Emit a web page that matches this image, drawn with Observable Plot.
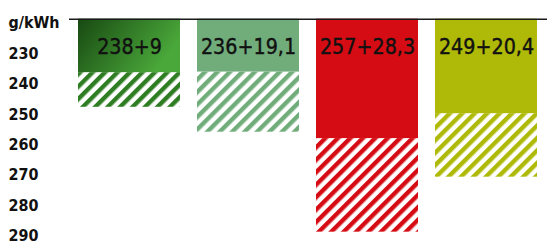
<!DOCTYPE html>
<html>
<head>
<meta charset="utf-8">
<script src="https://cdn.jsdelivr.net/npm/d3@7"></script>
<script src="https://cdn.jsdelivr.net/npm/@observablehq/plot@0.6"></script>
<style>
  html, body { margin: 0; padding: 0; background: #fff; }
  svg { display: block; }
</style>
</head>
<body>
<div id="chart"></div>
<script>
// Data
const categories = ["A", "B", "C", "D"];
const labels = ["238+9", "236+19,1", "257+28,3", "249+20,4"];
const solidEnd = [236.3, 236.1, 258.0, 249.8];   // end of solid part (g/kWh)
const totalEnd = [247.7, 255.9, 288.8, 270.7];   // end of hatched part (g/kWh)
const yTop = 218.7;
const yBottom = 292.2;
const tickValues = [220, 230, 240, 250, 260, 270, 280, 290];

// Styles
const solidColors = ["url(#grad0)", "#71ad7b", "#d60c14", "#aeb908"];
const hatchColors = ["#2f7d23", "#71ad7b", "#d60c14", "#aeb908"];

const rows = categories.map((c, i) => ({
  cat: c, label: labels[i], solid: solidEnd[i], total: totalEnd[i],
  solidFill: solidColors[i], hatchFill: `url(#hatch${i})`
}));

const font = "'DejaVu Sans', sans-serif";

const svg = Plot.plot({
  width: 547,
  height: 242,
  marginLeft: 69,
  marginRight: 0,
  marginTop: 19,
  marginBottom: 0,
  style: {fontFamily: font, background: "#fff", overflow: "visible"},
  x: {domain: categories, paddingInner: 0.14, paddingOuter: 0.075, axis: null},
  y: {domain: [yTop, yBottom], range: [18.7, 242], axis: null},
  color: {type: "identity"},
  marks: [
    Plot.barY(rows, {x: "cat", y1: "solid", y2: "total", fill: "hatchFill"}),
    Plot.barY(rows, {x: "cat", y1: yTop, y2: "solid", fill: "solidFill"}),
    Plot.ruleY([yTop], {stroke: "#1a1a1a", strokeWidth: 1.6}),
    Plot.text(rows, {
      x: "cat", text: "label", frameAnchor: "top", dy: 34.3, lineAnchor: "bottom",
      fontSize: 22, fill: "#111", stroke: "#111", strokeWidth: 0.45, fontFamily: font,
      ariaLabel: "bar-label"
    }),
    Plot.axisY({
      ticks: tickValues,
      tickFormat: d => d === 220 ? "g/kWh" : String(d),
      tickSize: 0,
      tickPadding: 61,
      textAnchor: "start",
      fontSize: 16.5,
      fontWeight: "bold",
      fill: "#111",
      fontFamily: font
    })
  ]
});

document.getElementById("chart").appendChild(svg);

// condense the type horizontally (no condensed face is installed)
document.querySelectorAll("#chart svg text").forEach(t => {
  const owner = t.closest("[aria-label]");
  const lab = owner ? owner.getAttribute("aria-label") : "";
  const s = lab === "bar-label" ? 0.85 : 0.87;
  const x = +(t.getAttribute("x") || 0);
  const tr = t.getAttribute("transform") || "";
  t.setAttribute("transform", `${tr} translate(${x},0) scale(${s},1) translate(${-x},0)`);
});

// defs: gradient and hatch patterns
const defs = d3.select(svg).insert("defs", ":first-child");
const g = defs.append("linearGradient").attr("id", "grad0")
  .attr("x1", 0).attr("y1", 0).attr("x2", 1).attr("y2", 0.4);
g.append("stop").attr("offset", "0%").attr("stop-color", "#184912");
g.append("stop").attr("offset", "100%").attr("stop-color", "#4aa83a");

hatchColors.forEach((c, i) => {
  const p = defs.append("pattern").attr("id", `hatch${i}`)
    .attr("patternUnits", "userSpaceOnUse")
    .attr("width", 8.8).attr("height", 8.8)
    .attr("patternTransform", "rotate(45)");
  p.append("rect").attr("width", 8.8).attr("height", 8.8).attr("fill", "#fff");
  p.append("rect").attr("width", 4.4).attr("height", 8.8).attr("fill", c);
});
</script>
</body>
</html>
